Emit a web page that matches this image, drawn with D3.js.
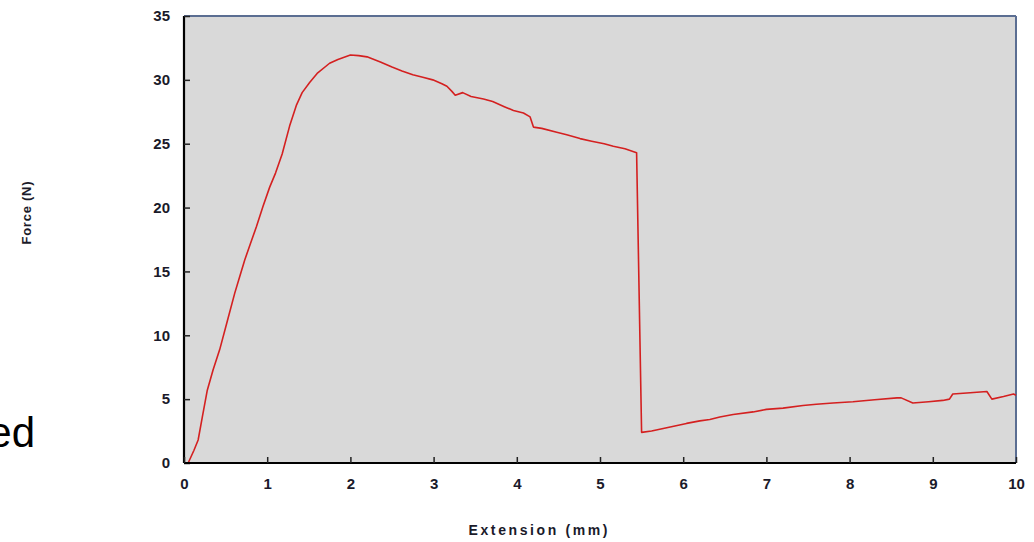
<!DOCTYPE html>
<html><head><meta charset="utf-8">
<script src="https://cdn.jsdelivr.net/npm/d3@7"></script>
<style>body{margin:0;background:#fff;} svg{display:block;}</style>
</head><body>
<svg id="c" width="1034" height="542"></svg>
<script>
const extension = [0.05,0.12,0.17,0.22,0.28,0.35,0.43,0.52,0.61,0.67,0.73,0.8,0.87,0.95,1.03,1.1,1.18,1.27,1.35,1.42,1.51,1.6,1.75,1.85,2.0,2.1,2.2,2.36,2.5,2.62,2.75,2.87,2.99,3.1,3.16,3.22,3.26,3.35,3.45,3.6,3.71,3.85,3.96,4.08,4.16,4.2,4.3,4.48,4.6,4.76,4.9,5.05,5.16,5.3,5.44,5.5,5.62,5.76,5.9,6.04,6.2,6.32,6.44,6.6,6.84,7.0,7.2,7.44,7.6,7.8,8.04,8.3,8.57,8.62,8.76,8.95,9.12,9.2,9.24,9.45,9.65,9.71,9.85,9.97,10.0];
const force =     [0,   1.0, 1.8, 3.6, 5.7, 7.3, 8.9, 11.1,13.3,14.6,15.9,17.2,18.5,20.1,21.6,22.7,24.2,26.4,28.0,29.0,29.8,30.5,31.3,31.6,31.95,31.9,31.8,31.4,31.0,30.7,30.4,30.2,30.0,29.7,29.5,29.1,28.8,29.0,28.7,28.5,28.3,27.9,27.6,27.4,27.1,26.3,26.2,25.9,25.7,25.4,25.2,25.0,24.8,24.6,24.3,2.4,2.5,2.7,2.9,3.1,3.3,3.4,3.6,3.8,4.0,4.2,4.3,4.5,4.6,4.7,4.8,4.95,5.1,5.1,4.7,4.8,4.9,5.0,5.4,5.5,5.6,5.0,5.2,5.4,5.3];
const xTicks = [0,1,2,3,4,5,6,7,8,9,10];
const yTicks = [0,5,10,15,20,25,30,35];

const svg = d3.select('#c');
const L=184, R=1016, T=16, B=463;
const x = d3.scaleLinear().domain([0,10]).range([L,R]);
const y = d3.scaleLinear().domain([0,35]).range([B,T]);
const FONT = 'Liberation Sans, Arial, sans-serif';

svg.append('rect').attr('x',L).attr('y',T).attr('width',R-L).attr('height',B-T).attr('fill','#d9d9d9');

// top and right borders (bluish)
svg.append('line').attr('x1',L).attr('x2',R).attr('y1',T).attr('y2',T).attr('stroke','#5b6e92').attr('stroke-width',2);
svg.append('line').attr('x1',R).attr('x2',R).attr('y1',T).attr('y2',B).attr('stroke','#5b6e92').attr('stroke-width',2);

const line = d3.line().x((d,i)=>x(extension[i])).y((d,i)=>y(force[i]));
svg.append('path').datum(force).attr('d',line).attr('fill','none').attr('stroke','#d42020').attr('stroke-width',1.6).attr('stroke-linejoin','round');

// axes
const yAxis = d3.axisLeft(y).tickValues(yTicks).tickSize(-6).tickPadding(14);
const gy = svg.append('g').attr('transform',`translate(${L},0)`).call(yAxis);
const xAxis = d3.axisBottom(x).tickValues(xTicks).tickSize(-6).tickPadding(15);
const gx = svg.append('g').attr('transform',`translate(0,${B})`).call(xAxis);
[gy,gx].forEach(g=>{
  g.select('.domain').attr('stroke','#000').attr('stroke-width',2.2);
  g.selectAll('.tick line').attr('stroke','#222').attr('stroke-width',1.5);
  g.selectAll('text').attr('font-family',FONT).attr('font-weight','bold').attr('font-size',15).attr('fill','#1a1a2a');
});
gy.select('.domain').attr('d',`M0,${B}V${T}`);
gx.select('.domain').attr('d',`M${L},0H${R}`);

svg.append('text').attr('transform','translate(31,213) rotate(-90)').attr('text-anchor','middle')
  .attr('font-family',FONT).attr('font-weight','bold').attr('font-size',13).attr('fill','#1a1a2a')
  .attr('textLength',63).attr('lengthAdjust','spacing').text('Force (N)');
svg.append('text').attr('x',538).attr('y',535).attr('text-anchor','middle')
  .attr('font-family',FONT).attr('font-weight','bold').attr('font-size',14).attr('fill','#1a1a2a')
  .attr('textLength',139).attr('lengthAdjust','spacing').text('Extension (mm)');
svg.append('text').attr('x',35).attr('y',447).attr('text-anchor','end')
  .attr('font-family',FONT).attr('font-size',42).attr('fill','#000').text('ed');
</script>
</body></html>
